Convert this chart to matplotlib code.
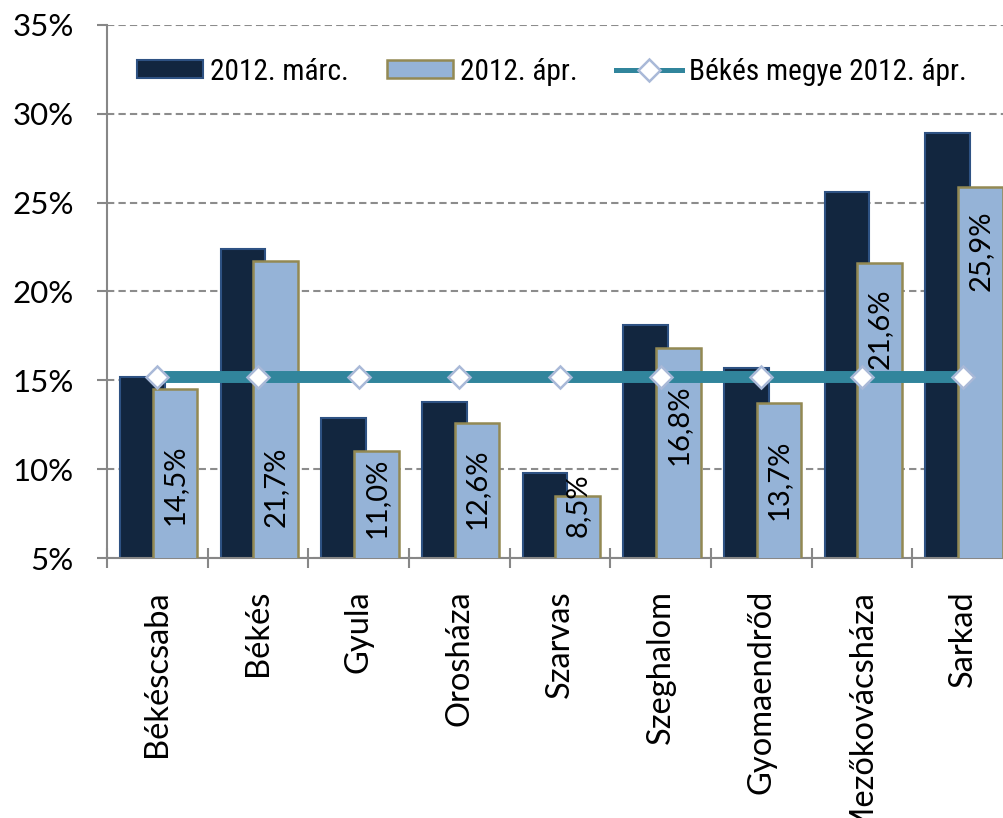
import matplotlib
matplotlib.use("Agg")
import matplotlib.pyplot as plt
from matplotlib import font_manager as fm
from matplotlib.lines import Line2D
from matplotlib.patches import Patch
import numpy as np

# data
cities = ["Békéscsaba", "Békés", "Gyula", "Orosháza", "Szarvas",
          "Szeghalom", "Gyomaendrőd", "Mezőkovácsháza", "Sarkad"]
marc_2012 = [15.2, 22.4, 12.9, 13.8, 9.8, 18.1, 15.7, 25.6, 28.9]
apr_2012 = [14.5, 21.7, 11.0, 12.6, 8.5, 16.8, 13.7, 21.6, 25.9]
bekes_megye_apr = [15.2, 15.2, 15.2, 15.2, 15.2, 15.2, 15.2, 15.2, 15.2]
series_names = ["2012. márc.", "2012. ápr.", "Békés megye 2012. ápr."]
yticks = [5, 10, 15, 20, 25, 30, 35]

# where the rotated value labels sit inside the april bars (y, in %)
label_y = [9.1, 9.0, 8.4, 8.9, 8.0, 12.5, 9.4, 17.9, 22.3]

NAVY = "#12263f"
NAVY_EDGE = "#2e5283"
LIGHT = "#95b3d7"
LIGHT_EDGE = "#938953"
TEAL = "#31859c"
GRID = "#8c8c8c"
AXIS = "#878787"


def installed(name):
    try:
        fm.findfont(fm.FontProperties(family=name), fallback_to_default=False)
        return True
    except ValueError:
        return False


humanist = ["Lato", "DejaVu Sans"]

# legend text is a narrow face in the original; use one if there is one
narrow = next((f for f in ["Liberation Sans Narrow", "Roboto Condensed",
                           "DejaVu Sans Condensed", "Open Sans Condensed"] if installed(f)), None)
if narrow == "Liberation Sans Narrow":
    leg_prop = {"family": [narrow, "DejaVu Sans"], "size": 22.5}
    em = 31.3
elif narrow:
    leg_prop = {"family": [narrow, "DejaVu Sans"], "size": 21.2}
    em = 29.4
else:
    leg_prop = {"family": ["Liberation Sans", "DejaVu Sans"], "size": 18.5}
    em = 25.7

W, H = 1004, 818
fig = plt.figure(figsize=(W / 100, H / 100), dpi=100)
ax = fig.add_axes([107 / W, (H - 558) / H, 906 / W, (558 - 25) / H])

x = np.arange(len(cities))
bw = 0.445
ax.bar(x - 0.15, marc_2012, bw, color=NAVY, edgecolor=NAVY_EDGE, linewidth=1.5, zorder=2)
ax.bar(x + 0.175, apr_2012, bw, color=LIGHT, edgecolor=LIGHT_EDGE, linewidth=1.8, zorder=3)

# value labels, rotated inside the april bars
for xi, v, ly in zip(x, apr_2012, label_y):
    ax.text(xi + 0.175, ly, f"{v:.1f}%".replace(".", ","), rotation=90,
            ha="center", va="center", fontsize=21, family=humanist, zorder=4)

ax.plot(x, bekes_megye_apr, color=TEAL, lw=8.6, marker="D", ms=11,
        mfc="white", mec="#a9b9d8", mew=1.8, zorder=5, solid_capstyle="butt")

ax.set_xlim(-0.5, len(cities) - 0.5)
ax.set_ylim(5, 35)
ax.set_yticks(yticks)
ax.set_yticklabels([f"{t}%" for t in yticks], fontsize=22.5, family=humanist)
ax.yaxis.grid(True, color=GRID, lw=1.5, linestyle=(0, (3.5, 2)))
ax.set_axisbelow(True)

ax.set_xticks(x)
ax.set_xticklabels(cities, rotation=90, fontsize=23.5, family=humanist)
ax.set_xticks(np.arange(len(cities) + 1) - 0.5, minor=True)
ax.tick_params(axis="x", which="major", length=0, pad=23)
ax.tick_params(axis="x", which="minor", direction="inout", length=14.4, width=1.5, color=AXIS)
ax.tick_params(axis="y", direction="out", length=7.5, width=1.5, color=AXIS, pad=16.5)

for s in ["top", "right"]:
    ax.spines[s].set_visible(False)
for s in ["left", "bottom"]:
    ax.spines[s].set_color(AXIS)
    ax.spines[s].set_linewidth(1.5)

handles = [
    Patch(facecolor=NAVY, edgecolor=NAVY_EDGE, linewidth=1.5),
    Patch(facecolor=LIGHT, edgecolor=LIGHT_EDGE, linewidth=1.8),
    Line2D([], [], color=TEAL, lw=3.6, marker="D", ms=11, mfc="white",
           mec="#a9b9d8", mew=1.8),
]
fig.legend(handles, series_names, loc="center left", ncol=3, frameon=False,
           bbox_to_anchor=(137 / W, 1 - 71.5 / H), borderpad=0, borderaxespad=0,
           handlelength=66 / em, handleheight=17 / em, handletextpad=7 / em,
           columnspacing=38 / em, prop=leg_prop)

fig.savefig("out.png", dpi=100)
